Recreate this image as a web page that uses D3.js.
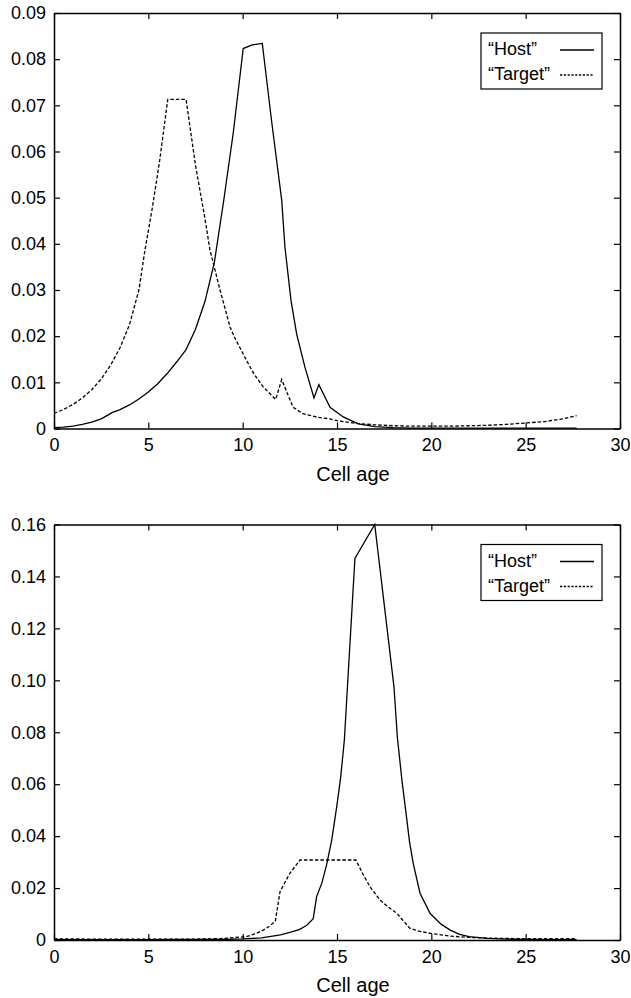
<!DOCTYPE html>
<html>
<head>
<meta charset="utf-8">
<script src="https://cdn.jsdelivr.net/npm/d3@7"></script>
<style>
  body { margin: 0; background: #fff; }
  svg { display: block; }
</style>
</head>
<body>
<div id="chart"></div>
<script>
// [age, value] pairs
const hostTop = [
  [0, 0.0002], [0.5, 0.0003], [1, 0.0005], [1.5, 0.0009], [2, 0.0014], [2.5, 0.0021],
  [2.9, 0.003], [3.1, 0.0035], [3.5, 0.0041], [4, 0.0051], [4.5, 0.0064], [5, 0.0079],
  [5.5, 0.0097], [6, 0.0119], [6.5, 0.0144], [7, 0.0171], [7.5, 0.0215], [8, 0.0275],
  [8.5, 0.036], [9, 0.0495], [9.5, 0.064], [10.03, 0.0823], [10.5, 0.0831], [11.04, 0.0834],
  [11.54, 0.0664], [12.07, 0.0494], [12.24, 0.0393], [12.56, 0.0278], [12.86, 0.0205],
  [13.3, 0.0133], [13.78, 0.0066], [14.04, 0.0095], [14.63, 0.0046], [15.33, 0.0025],
  [16.13, 0.001], [17, 0.0004], [18, 0.0002], [19, 0.0001], [22, 0.0001], [25, 0.0001],
  [27.7, 0.0001]
];
const targetTop = [
  [0, 0.0033], [0.5, 0.0041], [1, 0.0052], [1.5, 0.0066], [2, 0.0084], [2.5, 0.0107],
  [3, 0.0137], [3.5, 0.0175], [4, 0.0225], [4.5, 0.030], [4.82, 0.0386], [5.2, 0.0475],
  [5.6, 0.058], [6.03, 0.0713], [7, 0.0713], [7.5, 0.057], [8, 0.0455], [8.27, 0.0386],
  [8.8, 0.030], [9.33, 0.022], [9.6, 0.0195], [10.21, 0.0147], [10.6, 0.0118], [11.09, 0.009],
  [11.75, 0.0063], [12.07, 0.0106], [12.67, 0.0046], [13.2, 0.0032], [14, 0.0024],
  [14.63, 0.0021], [15, 0.0017], [16, 0.0011], [17, 0.0008], [18, 0.0006], [19, 0.0005],
  [20, 0.0005], [21, 0.0005], [22, 0.0006], [23, 0.0007], [24, 0.0009], [25, 0.0012],
  [26, 0.0015], [27, 0.0021], [27.7, 0.0028]
];
const hostBottom = [
  [0, 0.0001], [4, 0.0001], [8, 0.0002], [9, 0.0002], [10, 0.0004], [10.5, 0.0006],
  [11, 0.0008], [11.5, 0.0014], [12, 0.002], [12.5, 0.0029], [13, 0.004], [13.4, 0.0057],
  [13.74, 0.0082], [13.92, 0.0167], [14.2, 0.022], [14.45, 0.029], [14.72, 0.0385],
  [15.0, 0.052], [15.2, 0.063], [15.39, 0.077], [15.95, 0.1469], [17, 0.16],
  [18.02, 0.0975], [18.2, 0.078], [18.45, 0.061], [18.69, 0.047], [18.85, 0.0375],
  [19.04, 0.0295], [19.4, 0.018], [19.93, 0.0103], [20.5, 0.0062], [21, 0.0038],
  [21.5, 0.0022], [22, 0.0013], [23, 0.0006], [24, 0.0003], [25, 0.0002], [26, 0.0001],
  [27.7, 0.0001]
];
const targetBottom = [
  [0, 0.0005], [1, 0.0004], [3, 0.0003], [7, 0.0003], [8, 0.0004], [9, 0.0006],
  [9.5, 0.0009], [10.2, 0.0013], [10.7, 0.0025], [11.09, 0.0038], [11.4, 0.0052],
  [11.73, 0.0072], [11.98, 0.0186], [12.5, 0.0257], [13.04, 0.0308], [16, 0.0308],
  [16.4, 0.025], [16.75, 0.0205], [17.28, 0.0154], [17.7, 0.0128], [18.17, 0.0103],
  [18.5, 0.0075], [18.87, 0.0045], [19.4, 0.0033], [19.93, 0.0026], [21, 0.0015],
  [22, 0.001], [23, 0.0007], [24, 0.0006], [25, 0.0005], [27.7, 0.0005]
];

const xTicks = [0, 5, 10, 15, 20, 25, 30];
const yTicksTop = [0, 0.01, 0.02, 0.03, 0.04, 0.05, 0.06, 0.07, 0.08, 0.09];
const yTicksBottom = [0, 0.02, 0.04, 0.06, 0.08, 0.10, 0.12, 0.14, 0.16];
const legendLabels = ["\u201CHost\u201D", "\u201CTarget\u201D"];
const xLabel = "Cell age";

const font = "'Liberation Sans', Arial, Helvetica, sans-serif";
const dash = "3.5,2";

const svg = d3.select("#chart")
  .append("svg")
  .attr("width", 631)
  .attr("height", 998)
  .style("font-family", font);

function drawPanel(top, host, target, yTicks) {
  const left = 54, right = 620, h = 415.5;
  const g = svg.append("g").attr("transform", `translate(${left},${top})`);
  const width = right - left;

  const x = d3.scaleLinear().domain([0, 30]).range([0, width]);
  const y = d3.scaleLinear().domain([0, d3.max(yTicks)]).range([h, 0]);
  const yFmt = d => d === 0 ? "0" : d3.format(".2f")(d);

  const styleAxis = sel => {
    sel.attr("font-family", font).attr("font-size", 18);
    sel.select(".domain").attr("stroke-width", 1.5);
    sel.selectAll(".tick line").attr("stroke-width", 1.2);
  };

  g.append("g")
    .attr("transform", `translate(0,${h})`)
    .call(d3.axisBottom(x).tickValues(xTicks).tickSize(-6).tickSizeOuter(0).tickPadding(10))
    .call(styleAxis);
  g.append("g")
    .call(d3.axisTop(x).tickValues(xTicks).tickSize(-6).tickSizeOuter(0).tickFormat(""))
    .call(styleAxis);
  g.append("g")
    .call(d3.axisLeft(y).tickValues(yTicks).tickFormat(yFmt).tickSize(-6).tickSizeOuter(0).tickPadding(8))
    .call(styleAxis);
  g.append("g")
    .attr("transform", `translate(${width},0)`)
    .call(d3.axisRight(y).tickValues(yTicks).tickSize(-6).tickSizeOuter(0).tickFormat(""))
    .call(styleAxis);

  g.append("text")
    .attr("x", 299)
    .attr("y", h + 52)
    .attr("text-anchor", "middle")
    .attr("font-size", 20)
    .text(xLabel);

  const line = d3.line()
    .x(d => x(d[0]))
    .y(d => y(d[1]));

  g.append("path")
    .datum(target)
    .attr("fill", "none")
    .attr("stroke", "#000")
    .attr("stroke-width", 1.3)
    .attr("stroke-dasharray", dash)
    .attr("d", line);

  g.append("path")
    .datum(host)
    .attr("fill", "none")
    .attr("stroke", "#000")
    .attr("stroke-width", 1.3)
    .attr("d", line);

  // legend box
  const lg = g.append("g").attr("transform", `translate(${427},${20})`);
  lg.append("rect")
    .attr("width", 121)
    .attr("height", 56)
    .attr("fill", "#fff")
    .attr("stroke", "#000")
    .attr("stroke-width", 1.2);
  legendLabels.forEach((label, i) => {
    const by = 22 + i * 25;
    lg.append("text")
      .attr("x", 7)
      .attr("y", by)
      .attr("font-size", 18)
      .text(label);
    lg.append("line")
      .attr("x1", 79)
      .attr("x2", 113)
      .attr("y1", by - 5)
      .attr("y2", by - 5)
      .attr("stroke", "#000")
      .attr("stroke-width", 1.3)
      .attr("stroke-dasharray", i === 1 ? "2.2,1.6" : null);
  });
}

drawPanel(13, hostTop, targetTop, yTicksTop);
drawPanel(524.5, hostBottom, targetBottom, yTicksBottom);
</script>
</body>
</html>
